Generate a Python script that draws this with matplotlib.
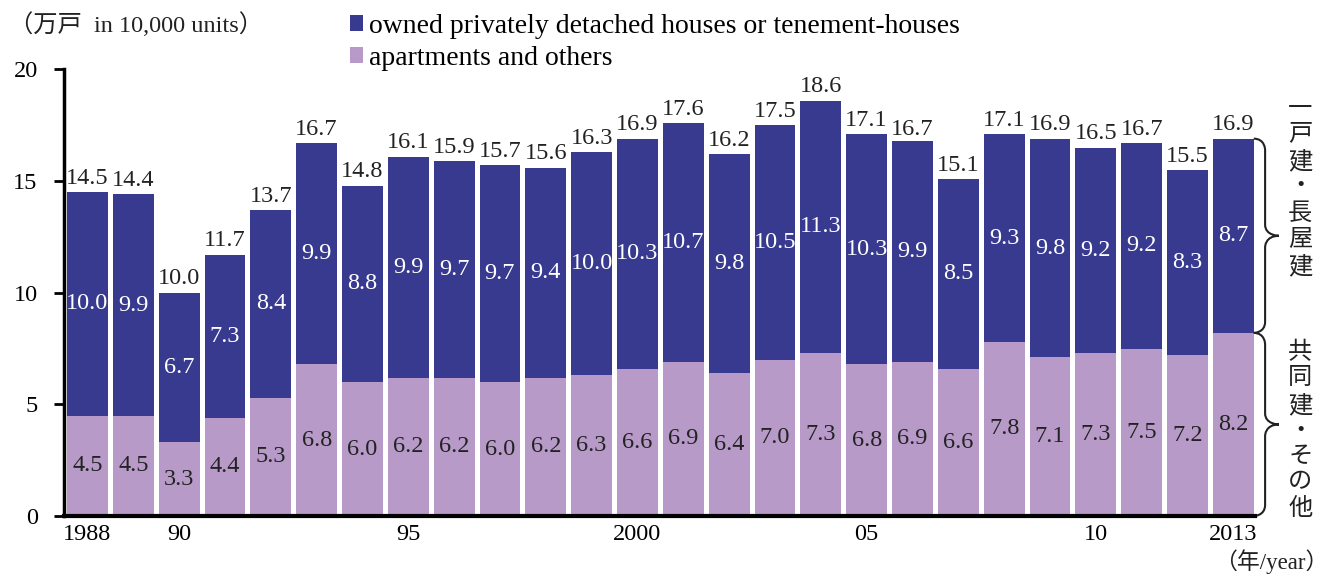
import matplotlib.pyplot as plt
import numpy as np
from matplotlib.path import Path
from matplotlib.patches import PathPatch

plt.rcParams['font.family'] = ['Liberation Serif', 'Noto Sans CJK JP']

years = list(range(1988, 2014))
apartments = [4.5, 4.5, 3.3, 4.4, 5.3, 6.8, 6.0, 6.2, 6.2, 6.0, 6.2, 6.3, 6.6,
              6.9, 6.4, 7.0, 7.3, 6.8, 6.9, 6.6, 7.8, 7.1, 7.3, 7.5, 7.2, 8.2]
detached = [10.0, 9.9, 6.7, 7.3, 8.4, 9.9, 8.8, 9.9, 9.7, 9.7, 9.4, 10.0, 10.3,
            10.7, 9.8, 10.5, 11.3, 10.3, 9.9, 8.5, 9.3, 9.8, 9.2, 9.2, 8.3, 8.7]
totals = [14.5, 14.4, 10.0, 11.7, 13.7, 16.7, 14.8, 16.1, 15.9, 15.7, 15.6, 16.3, 16.9,
          17.6, 16.2, 17.5, 18.6, 17.1, 16.7, 15.1, 17.1, 16.9, 16.5, 16.7, 15.5, 16.9]
tick_pos = [0, 2, 7, 12, 17, 22, 25]
tick_labels = ['1988', '90', '95', '2000', '05', '10', '2013']

c_top = '#373a8f'
c_bot = '#b79ac8'
fs = 17.5

fig = plt.figure(figsize=(13.35, 5.74), dpi=100)
ax = fig.add_axes([0.048, 0.101, 0.892, 0.778])

x = np.arange(len(years))
ax.bar(x, apartments, width=0.89, color=c_bot, label='apartments and others')
ax.bar(x, detached, width=0.89, bottom=apartments, color=c_top,
       label='owned privately detached houses or tenement-houses')

for i in range(len(x)):
    ax.text(x[i], apartments[i] / 2, f'{apartments[i]:.1f}', ha='center', va='center',
            fontsize=fs, color='#222222')
    ax.text(x[i], apartments[i] + detached[i] / 2, f'{detached[i]:.1f}', ha='center',
            va='center', fontsize=fs, color='white')
    ax.text(x[i], totals[i] + 0.15, f'{totals[i]:.1f}', ha='center', va='bottom',
            fontsize=fs, color='#222222')

ax.set_xlim(-0.51, 25.47)
ax.set_ylim(0, 20)
ax.set_yticks([0, 5, 10, 15, 20])
ax.set_xticks(tick_pos)
ax.set_xticklabels(tick_labels)
ax.tick_params(axis='y', length=7, width=2, labelsize=fs, pad=12)
ax.tick_params(axis='x', length=0, labelsize=fs, pad=6)
ax.spines['top'].set_visible(False)
ax.spines['right'].set_visible(False)
ax.spines['left'].set_linewidth(2.5)
ax.spines['bottom'].set_linewidth(3)

# braces on the right
def brace(y0, y1, x0=25.445, w=0.55):
    ym = (y0 + y1) / 2
    r = 0.5
    xm = x0 + w * 0.45
    xt = x0 + w
    verts = [(x0, y1), (xm, y1), (xm, y1 - r), (xm, y1 - r),
             (xm, ym + r),
             (xm, ym), (xt, ym), (xt, ym),
             (xm, ym), (xm, ym - r), (xm, ym - r),
             (xm, y0 + r),
             (xm, y0), (x0, y0), (x0, y0)]
    codes = [Path.MOVETO, Path.CURVE4, Path.CURVE4, Path.CURVE4,
             Path.LINETO,
             Path.CURVE4, Path.CURVE4, Path.CURVE4,
             Path.CURVE4, Path.CURVE4, Path.CURVE4,
             Path.LINETO,
             Path.CURVE4, Path.CURVE4, Path.CURVE4]
    ax.add_patch(PathPatch(Path(verts, codes), fill=False, lw=1.5,
                           edgecolor='#222222', clip_on=False))

brace(apartments[-1], totals[-1])
brace(0, apartments[-1])

fig.text(0.974, 0.672, '一\n戸\n建\n・\n長\n屋\n建', ha='center', va='center',
         fontsize=fs, linespacing=1.28, color='#222222')
fig.text(0.974, 0.249, '共\n同\n建\n・\nそ\nの\n他', ha='center', va='center',
         fontsize=fs, linespacing=1.28, color='#222222')

fig.text(0.007, 0.958, '（万戸  in 10,000 units）', ha='left', va='center',
         fontsize=fs, color='#222222')
fig.text(0.995, 0.022, '（年/year）', ha='right', va='center',
         fontsize=fs - 1, color='#222222')

h, l = ax.get_legend_handles_labels()
ax.legend(h[::-1], l[::-1], loc='upper left', bbox_to_anchor=(0.2535, 0.995),
          bbox_transform=fig.transFigure, frameon=False, fontsize=20,
          handlelength=0.5, handleheight=0.5, handletextpad=0.2,
          labelspacing=0.25, borderaxespad=0)

fig.savefig('out.png', dpi=100)
